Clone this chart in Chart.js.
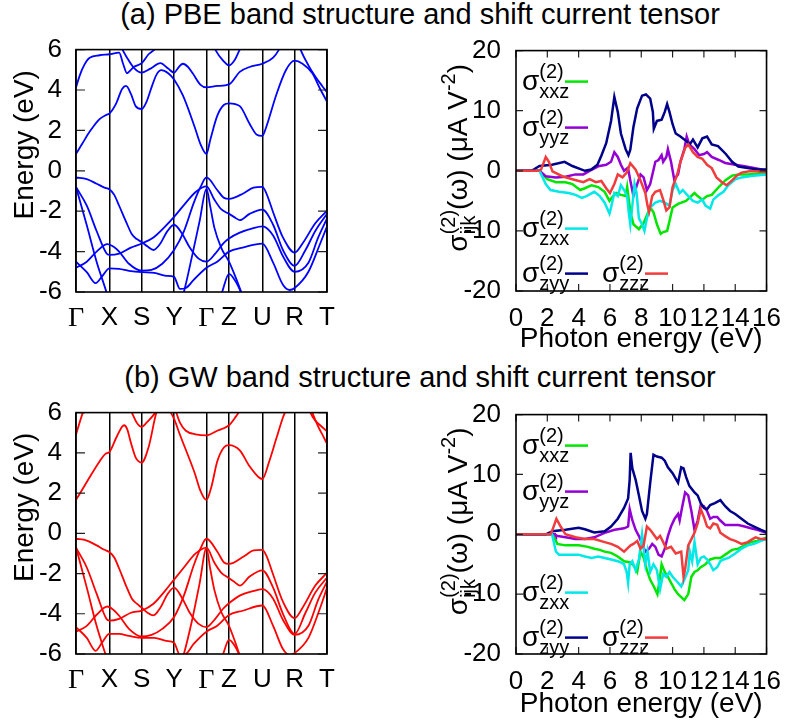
<!DOCTYPE html>
<html>
<head>
<meta charset="utf-8">
<script src="https://cdn.jsdelivr.net/npm/chart.js@4.4.1/dist/chart.umd.min.js"></script>
<style>
  body { margin: 0; background: #fff; width: 793px; height: 725px; position: relative; overflow: hidden;
         font-family: "Liberation Sans", Arial, sans-serif; }
  .title { position: absolute; left: 0; width: 840px; text-align: center; font-size: 29px; line-height: 32px;
           color: #000; white-space: nowrap; }
  canvas { position: absolute; }
</style>
</head>
<body>
<div class="title" style="top:-2px">(a) PBE band structure and shift current tensor</div>
<div class="title" style="top:361px">(b) GW band structure and shift current tensor</div>
<canvas id="band-pbe" width="345" height="325" style="left:0;top:20px"></canvas>
<canvas id="shift-pbe" width="393" height="340" style="left:400px;top:20px"></canvas>
<canvas id="band-gw" width="345" height="322" style="left:0;top:383px"></canvas>
<canvas id="shift-gw" width="393" height="341" style="left:400px;top:384px"></canvas>
<script>
// k-path: high-symmetry points along the band-structure x axis
const kTicks = [0, 34, 67, 100, 133, 156, 190, 223, 256];
const kLabels = ['Γ', 'X', 'S', 'Y', 'Γ', 'Z', 'U', 'R', 'T'];
const photonTicks = [0, 2, 4, 6, 8, 10, 12, 14, 16];
const seriesNames = ['xxz', 'yyz', 'zxx', 'zyy', 'zzz'];
const seriesColors = ['#00e600', '#9400d3', '#00e8e8', '#00008b', '#f03c3c'];

// PBE bands, [k, E(eV)]
const pbeConduction = [
    [[0,0.84],[6,1.31],[14,1.94],[24,2.56],[31,2.77],[34,2.83],[41,3.34],[47,4.05],[51,4.2],[56,3.81],[61,3.19],[67,3.06],[72,3.42],[77,4.13],[82,4.75],[87,4.98],[94,4.83],[100,4.52],[109,3.73],[121,2.17],[127,1.31],[133,0.84],[137,1.55],[144,2.72],[151,3.27],[156,3.34],[167,3.2],[177,2.33],[184,1.8],[190,1.73],[194,2.17],[204,3.73],[214,4.98],[223,5.45],[231,5.3],[241,4.83],[249,4.05],[256,3.42]],
    [[0,4.13],[3,4.6],[6,5.0],[11,5.45],[14,5.6],[24,5.72],[34,5.77],[44,5.85],[48,5.3],[52,4.83],[56,5.0],[59,5.14],[67,5.33],[74,5.77],[81,6.05],[90,6.7],[100,7]],
    [[44,6.3],[52,5.6],[59,5.1],[67,4.86],[76,5.06],[86,5.33],[94,5.06],[100,4.86],[105,5.15],[109,5.3],[114,5.15],[119,4.83],[127,4.25],[133,4.13],[144,4.2],[156,4.28],[167,4.9],[177,5.14],[190,5.3],[201,5.6],[207,6.0],[215,6.8]],
    [[133,7],[142,6.0],[150,5.45],[156,5.22],[162,5.5],[167,6.0],[180,7]],
    [[222,7],[229,6.0],[237,5.22],[244,4.67],[251,4.2],[256,3.89]]
];
const pbeValence = [
    [[0,-0.33],[11,-0.41],[21,-0.64],[29,-0.83],[34,-0.91],[39,-1.19],[44,-1.73],[51,-2.52],[57,-3.14],[62,-3.38],[67,-3.53],[73,-3.75],[79,-3.92],[86,-3.6],[93,-3.0],[100,-2.67],[108,-3.1],[116,-3.8],[125,-4.35],[133,-4.5],[142,-4.1],[150,-3.6],[156,-3.35],[167,-3.06],[180,-2.85],[190,-2.75],[201,-3.2],[211,-4.23],[223,-5.0],[237,-4.55],[247,-3.3],[256,-2.36]],
    [[0,-0.8],[11,-1.73],[21,-2.98],[31,-4.08],[34,-4.16],[44,-4.1],[56,-3.8],[67,-3.6],[79,-3.3],[91,-2.75],[100,-2.28],[110,-1.7],[122,-1.05],[133,-0.77],[141,-1.42],[148,-1.9],[156,-2.13],[161,-2.28],[167,-2.44],[177,-2.13],[190,-1.92],[201,-2.67],[211,-3.92],[223,-4.7],[234,-3.92],[244,-2.98],[256,-2.13]],
    [[0,-4.8],[11,-4.5],[21,-4.0],[32,-3.63],[38,-3.75],[44,-4.0],[54,-4.6],[67,-4.94],[77,-4.9],[88,-4.6],[100,-3.92],[110,-3.0],[120,-1.6],[127,-0.8],[133,-0.33],[144,-0.95],[151,-1.34],[156,-1.39],[171,-1.11],[181,-0.83],[190,-0.8],[194,-1.1],[201,-2.05],[211,-3.3],[223,-4.05],[231,-3.6],[244,-2.6],[256,-1.97]],
    [[0,-4.5],[11,-5.02],[20,-5.56],[27,-5.2],[34,-4.83],[44,-4.85],[54,-4.95],[67,-5.02],[80,-5.05],[92,-5.2],[100,-5.25],[106,-5.85],[112,-5.8],[120,-5.4],[133,-4.8],[144,-4.5],[156,-4.0],[170,-3.8],[190,-3.61],[201,-4.55],[211,-5.64],[218,-5.9],[223,-5.8],[237,-5.0],[249,-3.6],[256,-2.75]],
    [[0,-0.8],[11,-2.7],[21,-4.5],[31,-6.0],[40,-7.5],[100,-7.5],[110,-6.0],[118,-4.3],[126,-2.5],[133,-0.9],[137,-1.8],[141,-2.8],[148,-3.8],[156,-4.5],[163,-5.3],[170,-6.2],[180,-7.5]],
    [[149,-6.0],[156,-5.1],[163,-5.5],[170,-6.2]]
];

// GW bands, [k, E(eV)]
const gwConduction = [
    [[0,1.66],[11,2.55],[24,3.57],[30,3.95],[34,4.04],[42,4.85],[49,5.37],[52,5.2],[56,4.5],[61,3.75],[67,3.52],[74,4.28],[82,6.0],[88,6.6],[96,6.05],[100,5.69],[106,4.9],[121,3.0],[127,2.1],[133,1.66],[138,2.3],[144,3.57],[151,4.28],[156,4.38],[167,4.12],[177,3.33],[186,2.8],[190,2.7],[197,3.57],[204,4.67],[211,5.76],[213,6.0],[220,7]],
    [[0,4.9],[3,5.4],[7,6.0],[12,6.6],[20,7]],
    [[52,6.6],[57,6.0],[62,5.5],[67,5.29],[72,5.5],[81,6.0],[88,6.5]],
    [[96,6.6],[100,6.3],[106,5.5],[112,5.1],[122,4.92],[133,4.87],[144,5.1],[156,5.37],[163,5.8],[170,6.3],[178,6.8]],
    [[232,7],[239,6.0],[244,5.6],[249,5.37],[256,5.06]],
    [[234,7],[241,6.0],[247,5.3],[252,4.83],[256,4.45]]
];
const gwValence = [
    [[0,-0.27],[11,-0.36],[21,-0.6],[29,-0.82],[34,-0.93],[39,-1.2],[44,-1.75],[51,-2.6],[57,-3.25],[62,-3.5],[67,-3.7],[73,-3.95],[79,-4.08],[86,-3.7],[93,-3.05],[100,-2.7],[108,-3.2],[116,-3.95],[125,-4.5],[133,-4.66],[142,-4.25],[150,-3.75],[156,-3.48],[167,-3.1],[180,-2.88],[190,-2.78],[201,-3.25],[211,-4.3],[223,-5.05],[237,-4.6],[247,-3.3],[256,-2.4]],
    [[0,-0.71],[11,-1.7],[21,-3.0],[31,-4.25],[34,-4.34],[44,-4.25],[56,-3.95],[67,-3.84],[79,-3.5],[91,-2.85],[100,-2.3],[110,-1.7],[122,-1.0],[133,-0.71],[141,-1.45],[148,-1.95],[156,-2.23],[161,-2.4],[167,-2.6],[177,-2.15],[190,-1.84],[201,-2.7],[211,-4.0],[223,-5.0],[234,-3.95],[244,-2.95],[256,-2.2]],
    [[0,-4.89],[11,-4.6],[21,-4.05],[32,-3.64],[38,-3.8],[44,-4.1],[54,-4.75],[67,-5.13],[77,-5.05],[88,-4.75],[100,-4.16],[110,-3.1],[120,-1.6],[127,-0.75],[133,-0.27],[144,-0.9],[151,-1.45],[156,-1.52],[171,-1.15],[181,-0.85],[190,-0.82],[194,-1.1],[201,-2.05],[211,-3.4],[223,-4.22],[231,-3.7],[244,-2.6],[256,-1.96]],
    [[0,-4.66],[11,-5.2],[20,-5.84],[27,-5.4],[34,-5.0],[44,-5.0],[54,-5.1],[67,-5.2],[80,-5.2],[92,-5.35],[100,-5.44],[106,-6.05],[112,-6.0],[120,-5.5],[133,-4.89],[144,-4.6],[156,-4.06],[170,-3.85],[190,-3.59],[201,-4.6],[211,-5.75],[218,-6.05],[223,-5.95],[237,-5.2],[249,-3.7],[256,-2.7]],
    [[0,-0.71],[11,-2.7],[21,-4.6],[30,-6.0],[40,-7.5],[100,-7.5],[110,-6.0],[118,-4.4],[126,-2.5],[133,-0.75],[137,-1.8],[141,-2.8],[148,-3.9],[156,-4.6],[163,-5.5],[168,-6.2],[180,-7.5]],
    [[150,-6.0],[156,-5.3],[162,-5.6],[168,-6.2]]
];

// shift current, [photon energy (eV), sigma (uA/V^2)]
const pbeXXZ = [[0,0],[1.5,0],[1.7,-0.6],[2.0,-1.4],[2.55,-1.9],[3.16,-1.9],[3.6,-2.2],[4.1,-3.2],[4.4,-2.9],[4.83,-2.4],[5.25,-2.7],[5.66,-3.5],[5.97,-5.0],[6.2,-4.2],[6.4,-3.7],[6.7,-4.0],[7.0,-4.2],[7.1,-2.7],[7.3,-6.8],[7.5,-8.9],[7.85,-9.7],[8.15,-8.7],[8.36,-7.4],[8.57,-6.1],[8.78,-6.9],[9.0,-8.9],[9.24,-10.5],[9.4,-10.2],[9.65,-10.0],[9.8,-8.4],[10.0,-6.1],[10.35,-5.5],[10.86,-5.0],[11.07,-4.5],[11.4,-3.7],[11.6,-4.2],[11.9,-4.8],[12.2,-4.2],[12.5,-4.0],[12.95,-2.7],[13.36,-1.6],[13.8,-0.8],[14.2,-0.6],[14.8,-0.6],[15.4,-0.5],[16,-0.3]];
const pbeYYZ = [[0,0],[1.5,0],[1.9,-0.9],[2.55,-1.1],[3.16,-1.0],[3.8,-0.6],[4.3,-0.6],[4.7,0],[5.25,0.75],[5.76,1.0],[6.07,1.5],[6.28,3.1],[6.5,2.3],[6.7,1.0],[6.9,0],[7.15,0.5],[7.3,-1.6],[7.5,-4.2],[7.74,-2.2],[7.95,-0.6],[8.15,-1.1],[8.36,-3.2],[8.57,-2.2],[8.9,1.5],[9.1,1.8],[9.3,2.6],[9.4,1.5],[9.6,2.3],[9.7,3.6],[9.9,1.5],[10.1,-1.4],[10.35,-0.6],[10.5,1.5],[10.75,3.6],[10.9,5.7],[11.07,4.4],[11.4,3.6],[11.7,2.6],[12.0,2.8],[12.2,3.1],[12.5,2.3],[12.95,1.8],[13.36,1.3],[14.0,1.0],[14.6,0.75],[15.2,0.45],[16,0.05]];
const pbeZXX = [[0,0],[1.5,0],[1.9,-2.2],[2.2,-3.2],[2.75,-3.5],[3.37,-3.7],[3.8,-4.0],[4.2,-4.5],[4.5,-4.2],[5.0,-3.5],[5.35,-4.2],[5.66,-5.3],[5.97,-7.1],[6.07,-6.1],[6.28,-3.7],[6.5,-4.2],[6.7,-2.4],[6.9,-3.2],[7.1,-4.2],[7.2,-6.9],[7.3,-8.9],[7.43,-5.8],[7.57,-2.2],[7.7,-3.7],[7.85,-7.9],[8.05,-8.9],[8.2,-10.0],[8.36,-7.9],[8.57,-6.1],[8.9,-5.3],[9.2,-5.0],[9.5,-5.3],[9.8,-5.8],[10.0,-3.2],[10.2,-2.2],[10.45,-3.7],[10.65,-3.2],[11.0,-4.2],[11.3,-5.0],[11.6,-5.3],[11.9,-4.8],[12.1,-5.8],[12.4,-6.3],[12.6,-4.8],[12.95,-4.0],[13.25,-3.5],[13.56,-2.4],[14.0,-1.4],[14.4,-1.1],[15.0,-0.85],[16,-0.6]];
const pbeZYY = [[0,0],[1.0,0],[1.5,0.8],[2.3,1.0],[3.1,1.5],[3.6,0.8],[4.4,0],[4.8,0.2],[5.2,1.0],[5.45,2.5],[5.76,4.6],[6.07,8.3],[6.28,12.3],[6.5,9.8],[6.7,6.2],[7.0,3.6],[7.18,2.6],[7.3,3.5],[7.5,7.3],[7.74,10.4],[8.05,12.5],[8.3,12.7],[8.57,12.0],[8.74,9.8],[8.8,7.0],[9.0,8.3],[9.3,8.5],[9.5,9.8],[9.65,11.1],[9.8,9.8],[10.0,7.75],[10.2,6.2],[10.5,5.7],[10.9,4.9],[11.1,4.4],[11.3,5.2],[11.6,3.9],[11.9,5.4],[12.2,5.7],[12.5,4.4],[12.9,4.1],[13.4,2.8],[13.8,1.5],[14.2,0.7],[14.8,0.45],[15.4,0.2],[16,0.2]];
const pbeZZZ = [[0,0],[1.4,0],[1.6,0.2],[1.9,2.3],[2.1,1.5],[2.33,-0.1],[2.95,-0.9],[3.6,-1.4],[4.3,-1.9],[4.7,-1.4],[5.1,-1.9],[5.45,-1.7],[5.76,-2.9],[6.0,-3.7],[6.28,-2.2],[6.5,-0.6],[6.8,-1.1],[7.07,-0.3],[7.3,1.25],[7.64,0.2],[7.95,-1.6],[8.26,-3.7],[8.4,-5.8],[8.5,-6.8],[8.7,-4.2],[8.9,-3.5],[9.2,-3.2],[9.4,-4.8],[9.6,-6.6],[9.8,-6.1],[10.0,-2.7],[10.3,-0.6],[10.5,1.5],[10.8,3.8],[11.0,4.4],[11.3,3.1],[11.6,2.3],[11.9,2.0],[12.2,1.0],[12.5,0.45],[12.8,-1.1],[13.15,-1.9],[13.45,-2.4],[13.8,-1.6],[14.1,-0.8],[14.4,-0.3],[15.0,-0.05],[16,-0.2]];

const gwXXZ = [[0,0],[2.3,0],[2.43,-0.5],[2.64,-1.6],[3.16,-1.85],[4.0,-1.85],[4.6,-2.1],[5.0,-2.4],[5.35,-2.6],[5.66,-2.9],[6.07,-3.1],[6.5,-3.7],[6.9,-4.5],[7.32,-4.7],[7.53,-5.3],[7.74,-6.3],[7.95,-2.9],[8.15,-3.9],[8.36,-6.0],[8.57,-7.6],[8.78,-8.6],[9.03,-10.0],[9.2,-7.1],[9.3,-5.0],[9.5,-6.3],[9.7,-7.1],[9.9,-8.1],[10.13,-9.2],[10.35,-10.0],[10.55,-10.5],[10.75,-11.0],[11.0,-10.0],[11.2,-7.1],[11.4,-6.3],[11.6,-6.0],[11.8,-5.5],[12.1,-5.0],[12.4,-4.2],[12.7,-3.95],[13.05,-3.95],[13.36,-3.4],[13.8,-2.6],[14.2,-2.4],[14.6,-1.85],[15.0,-1.3],[15.4,-1.1],[16,-0.55]];
const gwYYZ = [[0,0],[2.5,0],[2.55,-0.25],[3.16,-0.5],[3.8,-0.8],[4.4,-0.8],[5.0,-0.5],[5.66,0.25],[6.3,0.75],[6.9,1.0],[7.16,1.3],[7.26,4.2],[7.43,2.35],[7.64,0.75],[7.85,-0.3],[8.05,-1.6],[8.26,-2.9],[8.5,-2.4],[8.7,-1.6],[8.9,-2.1],[9.1,-3.4],[9.3,-3.7],[9.5,-2.4],[9.7,-0.3],[9.9,1.3],[10.13,2.6],[10.35,3.4],[10.45,2.3],[10.6,4.4],[10.8,7.0],[11.0,6.5],[11.2,3.9],[11.4,0.75],[11.6,2.3],[11.8,4.9],[12.0,4.7],[12.2,3.9],[12.4,2.6],[12.6,2.9],[12.85,2.9],[13.05,2.3],[13.36,1.55],[13.8,1.55],[14.2,1.55],[14.6,1.3],[15.0,1.0],[15.4,0.75],[16,0.25]];
const gwZXX = [[0,0],[2.3,0],[2.33,-0.3],[2.55,-2.9],[2.75,-3.4],[3.37,-3.4],[4.0,-3.4],[4.4,-3.7],[4.83,-3.95],[5.25,-3.7],[5.66,-3.95],[6.07,-4.2],[6.5,-4.5],[6.7,-4.7],[6.9,-5.0],[7.07,-6.3],[7.16,-8.1],[7.26,-5.0],[7.43,-4.5],[7.64,-6.0],[7.85,-4.2],[8.05,0],[8.26,-5.0],[8.4,-2.9],[8.57,-6.3],[8.78,-5.0],[9.0,-6.0],[9.2,-9.2],[9.4,-6.6],[9.6,-7.1],[9.8,-6.3],[10.0,-7.1],[10.35,-8.1],[10.55,-8.7],[10.75,-7.6],[11.0,-6.0],[11.1,-2.9],[11.25,-4.5],[11.4,-1.3],[11.6,-5.0],[11.8,-3.95],[12.0,-3.7],[12.2,-4.2],[12.4,-5.0],[12.6,-6.0],[12.85,-5.5],[13.05,-4.5],[13.25,-4.2],[13.56,-3.95],[14.0,-3.2],[14.4,-2.4],[14.8,-1.85],[15.2,-1.6],[15.65,-1.1],[16,-0.8]];
const gwZYY = [[0,0],[1.9,0],[2.33,0.5],[3.16,0.75],[4.0,1.1],[4.4,0.85],[5.0,0.3],[5.66,0.5],[6.07,1.3],[6.5,2.6],[6.9,4.4],[7.16,6.0],[7.26,9.1],[7.32,13.6],[7.43,11.0],[7.64,9.1],[7.85,6.5],[8.05,3.9],[8.26,2.6],[8.36,3.4],[8.57,8.6],[8.78,13.3],[9.0,13.0],[9.3,12.8],[9.5,12.3],[9.7,11.2],[10.0,10.2],[10.35,8.6],[10.55,11.2],[10.7,11.0],[10.86,9.6],[11.07,8.1],[11.4,7.0],[11.6,6.5],[11.8,5.2],[12.0,4.4],[12.2,4.2],[12.4,4.9],[12.7,5.2],[13.05,5.7],[13.36,4.7],[13.67,3.9],[14.0,3.4],[14.4,2.6],[14.8,1.8],[15.2,1.3],[15.65,0.75],[16,0.35]];
const gwZZZ = [[0,0],[2.2,0],[2.33,0.75],[2.58,2.6],[2.85,1.3],[3.16,0],[3.8,-0.5],[4.4,-0.8],[5.0,-0.8],[5.66,-1.3],[6.07,-1.6],[6.5,-2.1],[6.9,-2.9],[7.1,-2.4],[7.32,-1.85],[7.5,-1.6],[7.74,-1.1],[7.95,-2.4],[8.15,-1.85],[8.36,1.3],[8.57,0.75],[8.78,0],[9.0,-0.8],[9.2,-0.25],[9.4,-1.3],[9.6,-2.4],[9.9,-2.1],[10.2,-3.2],[10.55,-2.9],[10.7,-7.1],[10.8,-5.8],[11.0,-1.85],[11.2,-0.8],[11.4,0.25],[11.6,1.8],[11.8,4.2],[12.0,2.9],[12.2,1.3],[12.4,1.0],[12.6,1.8],[12.85,1.6],[13.05,0.25],[13.36,-0.3],[13.67,-0.8],[14.0,-1.1],[14.4,-1.6],[14.8,-1.3],[15.1,-0.8],[15.3,-0.5],[15.65,-0.8],[16,-0.8]];

const FONT = '"Liberation Sans", Arial, sans-serif';
Chart.defaults.font.family = FONT;
Chart.defaults.font.size = 26;
Chart.defaults.color = '#000';

// draws a run of text pieces; {text} or stacked {sup, sub}
function runWidth(ctx, r) {
    ctx.font = r.size + 'px ' + FONT;
    if (r.text !== undefined) return ctx.measureText(r.text).width;
    return Math.max(ctx.measureText(r.sup || '').width, ctx.measureText(r.sub || '').width);
}
function drawRuns(ctx, runs, x, y) {
    ctx.textAlign = 'left';
    ctx.textBaseline = 'alphabetic';
    ctx.fillStyle = '#000';
    for (const r of runs) {
        ctx.font = r.size + 'px ' + FONT;
        if (r.text !== undefined) {
            ctx.fillText(r.text, x, y);
        } else {
            if (r.sup) ctx.fillText(r.sup, x, y - 12);
            if (r.sub) ctx.fillText(r.sub, x, y + 8);
        }
        x += runWidth(ctx, r);
    }
    return x;
}

const frameTicks = {
    id: 'frameTicks',
    afterDatasetsDraw(chart, args, opts) {
        const { ctx, chartArea: a, scales } = chart;
        const len = opts.length || 7;
        ctx.save();
        ctx.strokeStyle = '#222';
        ctx.lineWidth = 1.2;
        ctx.beginPath();
        scales.y.ticks.forEach(t => {
            const y = scales.y.getPixelForValue(t.value);
            ctx.moveTo(a.left, y); ctx.lineTo(a.left + len, y);
            ctx.moveTo(a.right, y); ctx.lineTo(a.right - len, y);
        });
        if (opts.xTicks) {
            scales.x.ticks.forEach(t => {
                const x = scales.x.getPixelForValue(t.value);
                ctx.moveTo(x, a.bottom); ctx.lineTo(x, a.bottom - len);
                ctx.moveTo(x, a.top); ctx.lineTo(x, a.top + len);
            });
        }
        ctx.stroke();
        ctx.strokeStyle = '#000';
        ctx.lineWidth = 1.6;
        ctx.strokeRect(a.left, a.top, a.right - a.left, a.bottom - a.top);
        ctx.restore();
    }
};

const yTitle = {
    id: 'yTitle',
    afterDraw(chart, args, opts) {
        const { ctx, chartArea: a } = chart;
        ctx.save();
        ctx.translate(a.left - opts.dx, (a.top + a.bottom) / 2 + opts.dy);
        ctx.rotate(-Math.PI / 2);
        const w = opts.runs.reduce((s, r) => s + runWidth(ctx, r), 0);
        drawRuns(ctx, opts.runs, -w / 2, 0);
        ctx.restore();
    }
};

const sigmaLegend = {
    id: 'sigmaLegend',
    afterDatasetsDraw(chart, args, opts) {
        const { ctx, chartArea: a } = chart;
        ctx.save();
        opts.entries.forEach(e => {
            const y = a.top + e.dy;
            drawRuns(ctx, [{ text: 'σ', size: 28 }, { sup: '(2)', sub: e.sub, size: 20 }], a.left + e.dx, y + 8);
            ctx.strokeStyle = e.color;
            ctx.lineWidth = 2.5;
            ctx.beginPath();
            ctx.moveTo(a.left + e.dx + 43, y);
            ctx.lineTo(a.left + e.dx + 66, y);
            ctx.stroke();
        });
        ctx.restore();
    }
};

function makeBandChart(id, conduction, valence, color, box) {
    const bands = conduction.concat(valence);
    return new Chart(document.getElementById(id), {
        type: 'line',
        data: {
            datasets: bands.map(b => ({
                data: b.map(p => ({ x: p[0], y: p[1] })),
                borderColor: color,
                borderWidth: 1.8,
                pointRadius: 0,
                cubicInterpolationMode: 'monotone',
                fill: false
            }))
        },
        options: {
            responsive: false,
            animation: false,
            devicePixelRatio: 1,
            layout: { padding: { top: box.top, right: box.right, left: 0, bottom: 0 } },
            plugins: {
                legend: { display: false },
                tooltip: { enabled: false },
                frameTicks: { xTicks: false, length: 9 },
                yTitle: { dx: 43, dy: -26, runs: [{ text: 'Energy (eV)', size: 28 }] }
            },
            scales: {
                x: {
                    type: 'linear', min: 0, max: 256,
                    afterBuildTicks: s => { s.ticks = kTicks.map(v => ({ value: v })); },
                    afterFit: s => { s.height = box.bottom; },
                    grid: { color: '#000', lineWidth: 1.5, drawTicks: false },
                    border: { display: false },
                    ticks: {
                        autoSkip: false, maxRotation: 0, minRotation: 0, padding: 10, color: '#000',
                        callback: (v, i) => kLabels[i],
                        font: c => kLabels[c.index] === 'Γ'
                            ? { family: '"Liberation Serif", "DejaVu Serif", serif', size: 28 }
                            : { family: FONT, size: 26 }
                    }
                },
                y: {
                    min: -6, max: 6,
                    afterFit: s => { s.width = box.left; },
                    grid: { display: false, drawTicks: false },
                    border: { display: false },
                    ticks: { stepSize: 2, padding: 14, color: '#000' }
                }
            }
        },
        plugins: [frameTicks, yTitle]
    });
}

function makeShiftChart(id, series, box) {
    const sets = series.map((s, i) => ({
        data: s.map(p => ({ x: p[0], y: p[1] })),
        borderColor: seriesColors[i],
        borderWidth: 2.5,
        pointRadius: 0,
        tension: 0,
        fill: false
    })).reverse();
    const legendSpots = [[6, 31], [6, 77], [6, 178], [6, 223], [86, 223]];
    return new Chart(document.getElementById(id), {
        type: 'line',
        data: { datasets: sets },
        options: {
            responsive: false,
            animation: false,
            devicePixelRatio: 1,
            layout: { padding: { top: box.top, right: box.right, left: 0, bottom: 0 } },
            plugins: {
                legend: { display: false },
                tooltip: { enabled: false },
                frameTicks: { xTicks: true, length: 7 },
                yTitle: {
                    dx: 49, dy: -13,
                    runs: [
                        { text: 'σ', size: 28 }, { sup: '(2)', sub: 'ijk', size: 20 },
                        { text: '(ω) (μA V', size: 28 }, { sup: '-2', size: 20 }, { text: ')', size: 28 }
                    ]
                },
                sigmaLegend: {
                    entries: seriesNames.map((n, i) => ({
                        sub: n, color: seriesColors[i], dx: legendSpots[i][0], dy: legendSpots[i][1]
                    }))
                }
            },
            scales: {
                x: {
                    type: 'linear', min: 0, max: 16,
                    afterBuildTicks: s => { s.ticks = photonTicks.map(v => ({ value: v })); },
                    afterFit: s => { s.height = box.bottom; },
                    grid: { display: false, drawTicks: false },
                    border: { display: false },
                    ticks: { autoSkip: false, maxRotation: 0, minRotation: 0, padding: 12, color: '#000' },
                    title: { display: true, text: 'Photon energy (eV)', font: { size: 28 }, color: '#000', padding: 4 }
                },
                y: {
                    min: -20, max: 20,
                    afterFit: s => { s.width = box.left; },
                    grid: { display: false, drawTicks: false },
                    border: { display: false },
                    ticks: { stepSize: 5, padding: 15, color: '#000' }
                }
            }
        },
        plugins: [frameTicks, yTitle, sigmaLegend]
    });
}

makeBandChart('band-pbe', pbeConduction, pbeValence, '#0000ff', { left: 76, top: 15, right: 13, bottom: 53 });
makeBandChart('band-gw', gwConduction, gwValence, '#ff0000', { left: 76, top: 15, right: 13, bottom: 51 });
makeShiftChart('shift-pbe', [pbeXXZ, pbeYYZ, pbeZXX, pbeZYY, pbeZZZ], { left: 116, top: 15, right: 21, bottom: 69 });
makeShiftChart('shift-gw', [gwXXZ, gwYYZ, gwZXX, gwZYY, gwZZZ], { left: 116, top: 15, right: 21, bottom: 71 });
</script>
</body>
</html>
